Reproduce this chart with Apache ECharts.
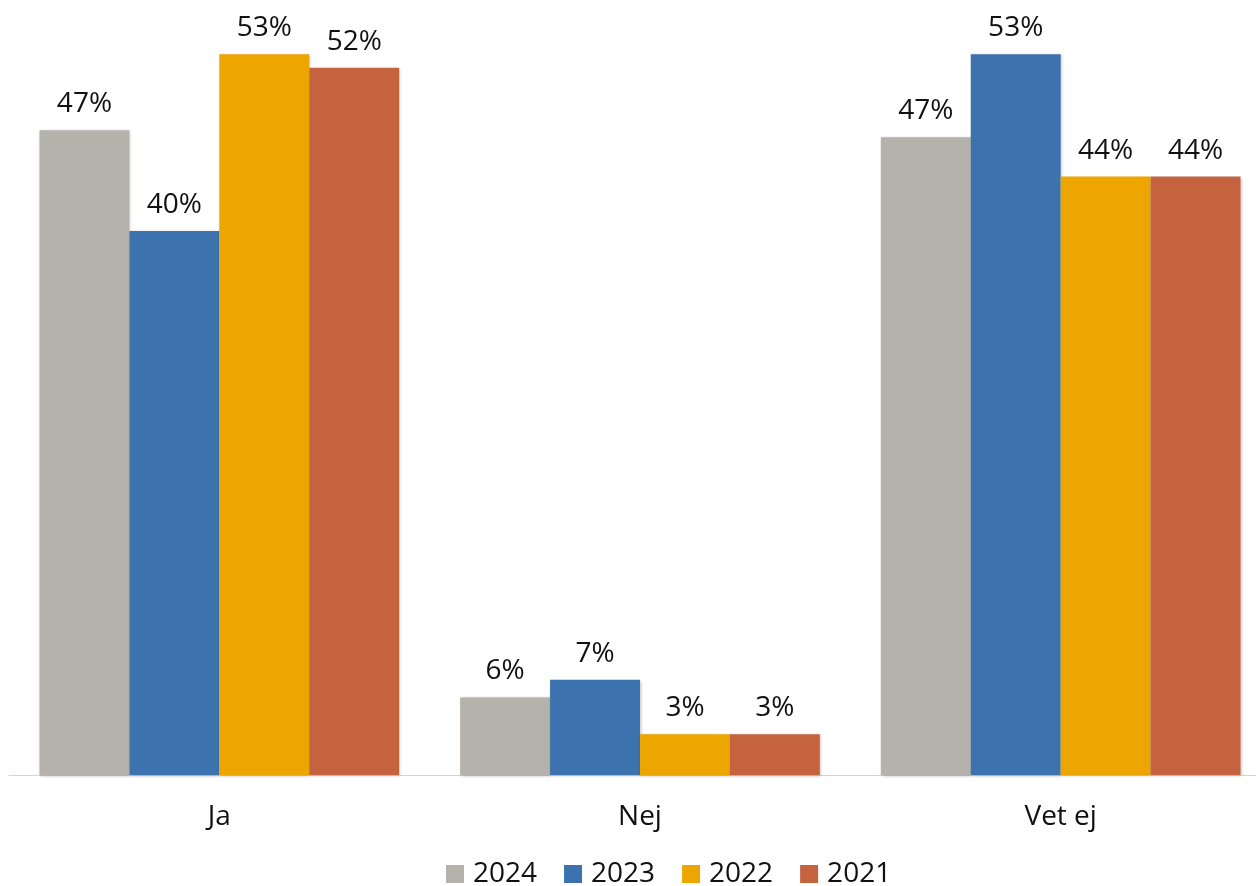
<!DOCTYPE html>
<html>
<head>
<meta charset="utf-8">
<script src="https://cdn.jsdelivr.net/npm/echarts@6/dist/echarts.min.js"></script>
<style>
html,body{margin:0;padding:0;background:#fff;overflow:hidden;width:1256px;height:886px;}
#chart{width:1271px;height:886px;}
</style>
</head>
<body>
<div id="chart"></div>
<script>
var categories = ['Ja', 'Nej', 'Vet ej'];
var seriesNames = ['2024', '2023', '2022', '2021'];
var values2024 = [47.4, 5.7, 46.9];
var values2023 = [40.0, 7.0, 53.0];
var values2022 = [53.0, 3.0, 44.0];
var values2021 = [52.0, 3.0, 44.0];
var colors = ['#B5B2AC', '#3C73AE', '#EDA500', '#C6633F'];

var allValues = [values2024, values2023, values2022, values2021];
var FONT = '"Open Sans", sans-serif';

var chart = echarts.init(document.getElementById('chart'));
chart.setOption({
  animation: false,
  backgroundColor: '#ffffff',
  textStyle: { fontFamily: FONT },
  grid: { left: 9, right: 0, top: 27, bottom: 111, containLabel: false },
  legend: {
    data: seriesNames,
    left: 441,
    top: 855,
    icon: 'rect',
    itemWidth: 18,
    itemHeight: 18,
    itemGap: 27,
    textStyle: { fontSize: 28, color: '#111', fontFamily: FONT, padding: [0, 0, 0, 4] }
  },
  xAxis: {
    type: 'category',
    data: categories,
    axisLine: { lineStyle: { color: '#D4D4D4', width: 1 } },
    axisTick: { show: false },
    axisLabel: { fontSize: 28, color: '#111', margin: 28, fontFamily: FONT }
  },
  yAxis: {
    type: 'value',
    min: 0,
    max: 55,
    show: false,
    splitLine: { show: false }
  },
  series: allValues.map(function (vals, i) {
    return {
      name: seriesNames[i],
      type: 'bar',
      data: vals,
      barGap: '0%',
      barCategoryGap: '14.5%',
      itemStyle: {
        color: colors[i],
        shadowColor: 'rgba(0,0,0,0.25)',
        shadowBlur: 3,
        shadowOffsetX: 1,
        shadowOffsetY: 1
      },
      label: {
        show: true,
        position: 'top',
        distance: 12,
        fontSize: 28,
        color: '#111',
        fontFamily: FONT,
        formatter: function (p) { return Math.round(p.value) + '%'; }
      }
    };
  })
});
</script>
</body>
</html>
